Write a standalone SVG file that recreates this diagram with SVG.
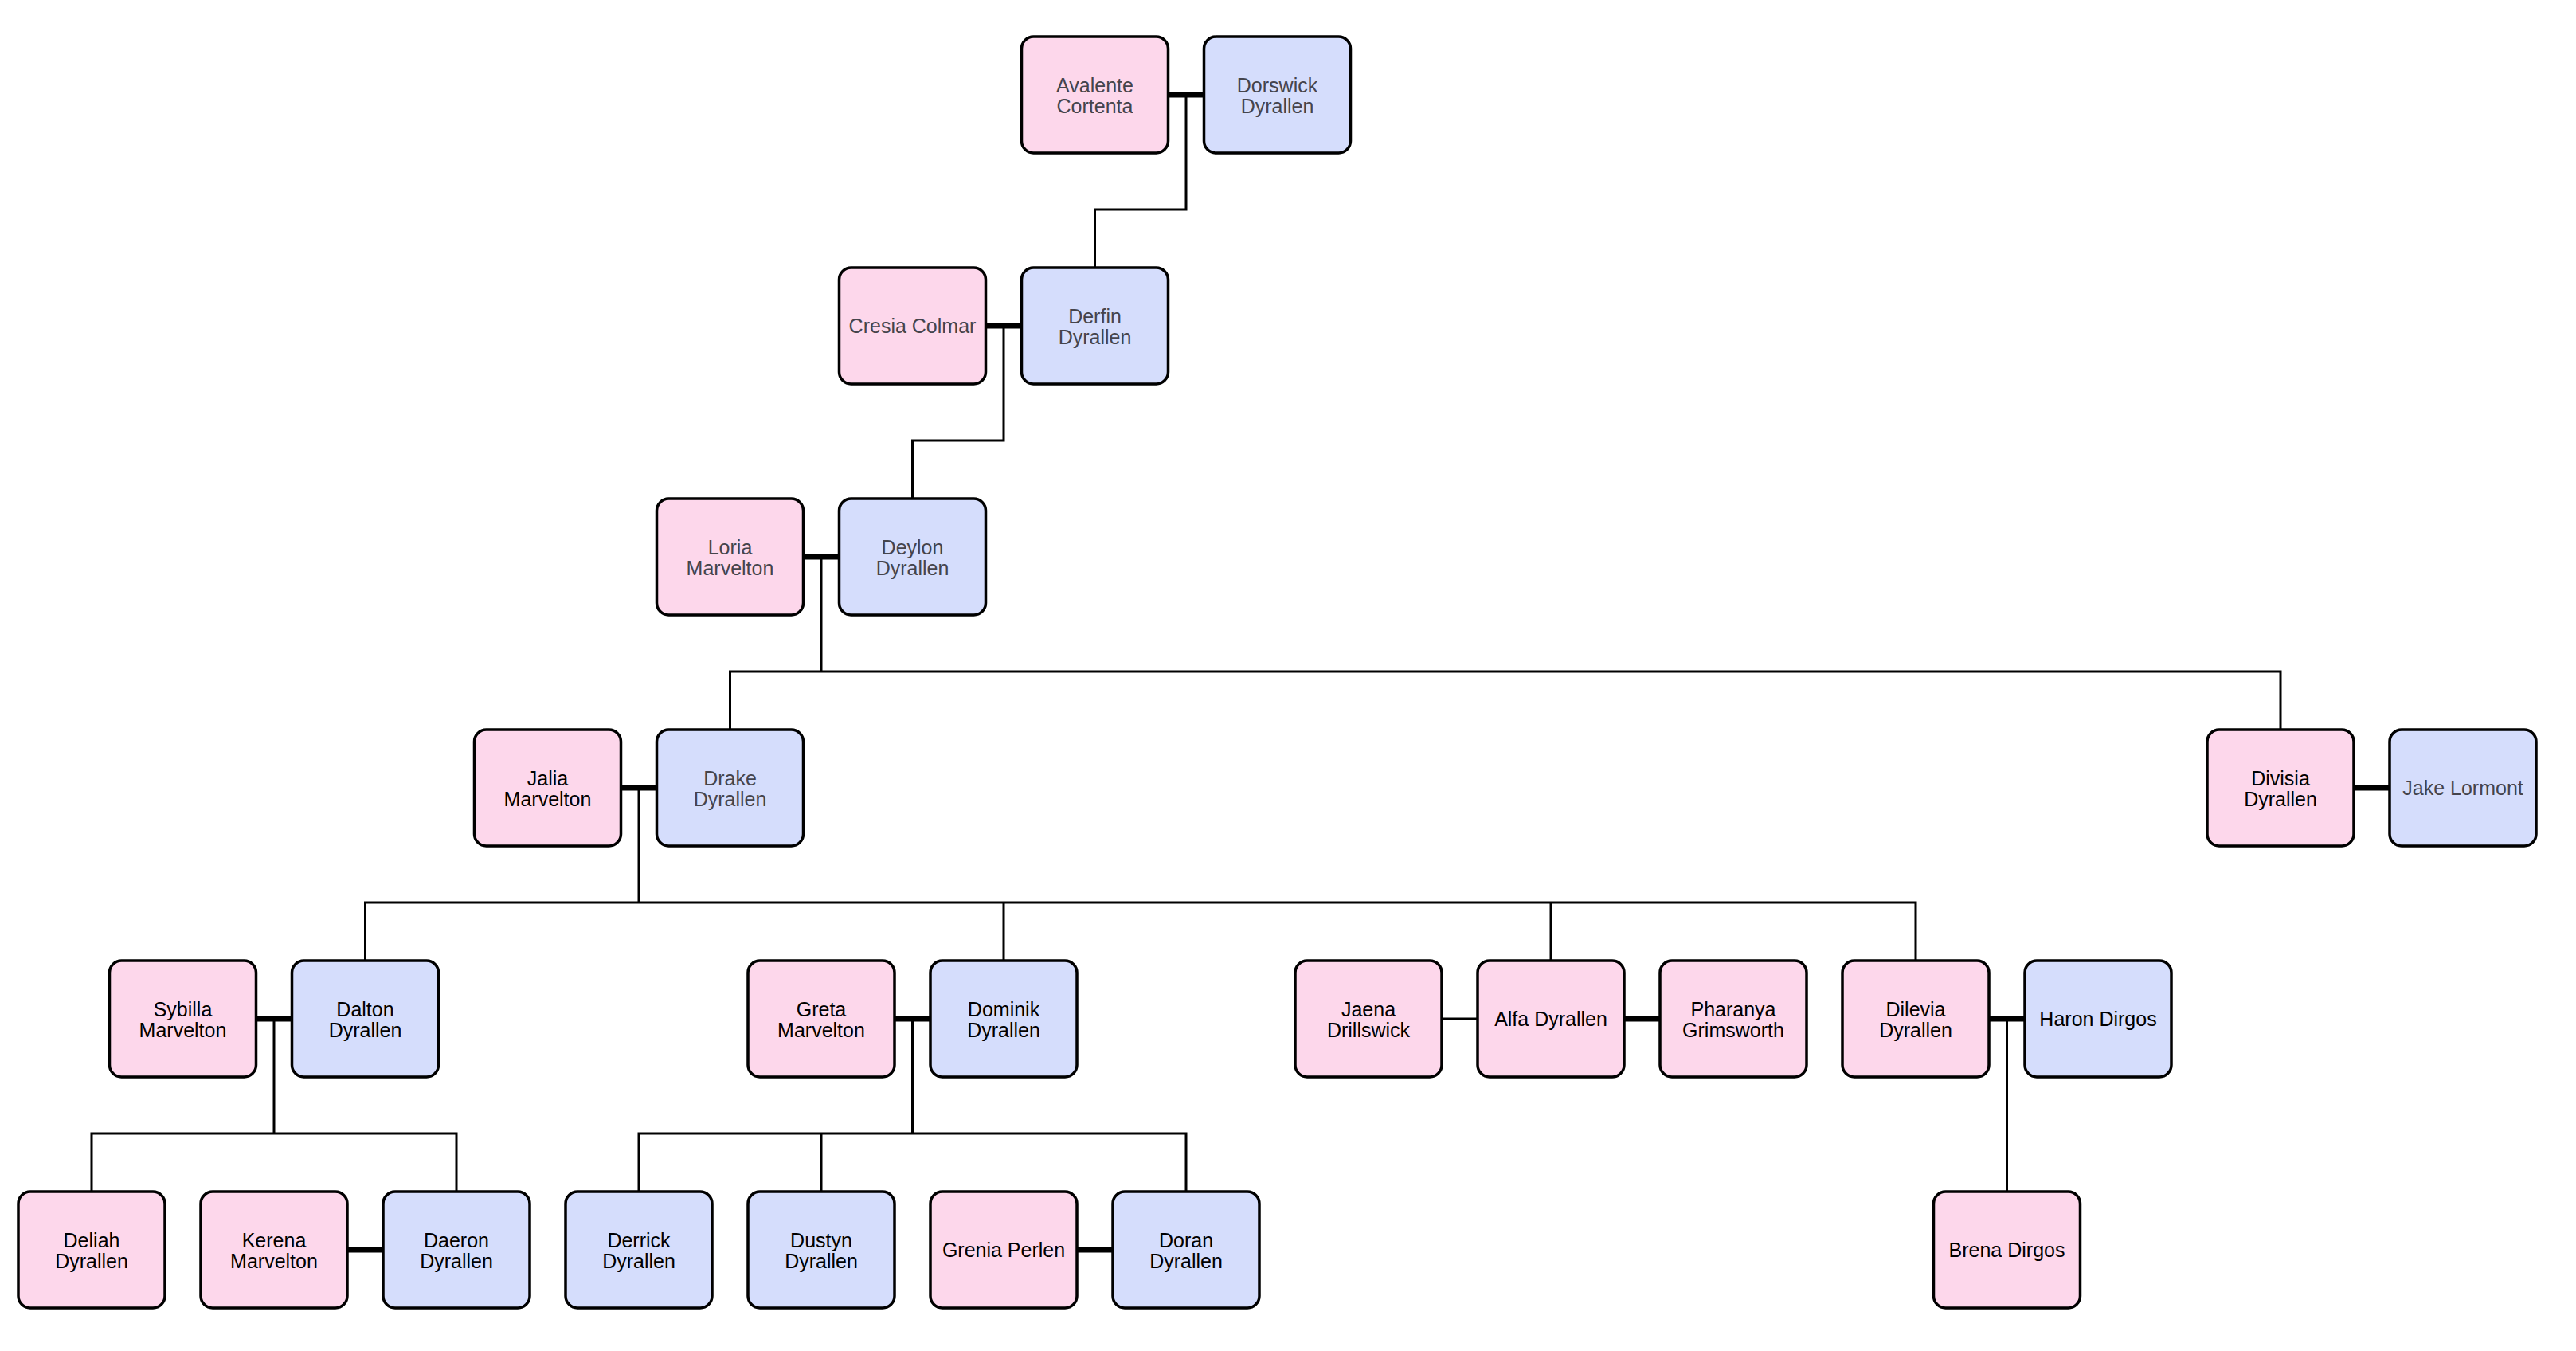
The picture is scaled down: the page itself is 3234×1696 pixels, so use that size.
<svg xmlns="http://www.w3.org/2000/svg" width="3234" height="1696" viewBox="0 0 3234 1696">
<style>
.box{stroke:#000;stroke-width:3.5}
.f{fill:#FDD7EB}
.m{fill:#D5DDFC}
text{font-family:"Liberation Sans",Arial,sans-serif;font-size:25px;text-anchor:middle;fill:#000}
.g text{fill:#45444c}
.thin{fill:none;stroke:#000;stroke-width:3}
.thick{fill:none;stroke:#000;stroke-width:7}
</style>
<rect width="3234" height="1696" fill="#fff"/>
<g id="connectors">
<path class="thin" d="M1489,119 V263 H1374.5 V336"/>
<path class="thin" d="M1260,409 V553 H1145.5 V626"/>
<path class="thin" d="M1031,699 V843"/>
<path class="thin" d="M916.5,916 V843 H2863 V916"/>
<path class="thin" d="M802,989 V1133"/>
<path class="thin" d="M458.5,1206 V1133 H2405 V1206 M1260,1133 V1206 M1947,1133 V1206"/>
<path class="thin" d="M344,1279 V1423"/>
<path class="thin" d="M115,1496 V1423 H573 V1496"/>
<path class="thin" d="M1145.5,1279 V1423"/>
<path class="thin" d="M802,1496 V1423 H1489 V1496 M1031,1423 V1496"/>
<path class="thin" d="M2519.5,1279 V1496"/>
<path class="thin" d="M1810,1279 H1855"/>
<path class="thick" d="M1466.5,119 H1511.5"/>
<path class="thick" d="M1237.5,409 H1282.5"/>
<path class="thick" d="M1008.5,699 H1053.5"/>
<path class="thick" d="M779.5,989 H824.5"/>
<path class="thick" d="M2955,989 H3000"/>
<path class="thick" d="M321.5,1279 H366.5"/>
<path class="thick" d="M1123,1279 H1168"/>
<path class="thick" d="M2039,1279 H2084"/>
<path class="thick" d="M2497,1279 H2542"/>
<path class="thick" d="M436,1569 H481"/>
<path class="thick" d="M1352,1569 H1397"/>
</g>
<g id="avalente" class="g"><rect class="box f" x="1282.5" y="46" width="184" height="146" rx="15"/><text x="1374.5" y="116">Avalente</text><text x="1374.5" y="142">Cortenta</text></g>
<g id="dorswick" class="g"><rect class="box m" x="1511.5" y="46" width="184" height="146" rx="15"/><text x="1603.5" y="116">Dorswick</text><text x="1603.5" y="142">Dyrallen</text></g>
<g id="cresia" class="g"><rect class="box f" x="1053.5" y="336" width="184" height="146" rx="15"/><text x="1145.5" y="418">Cresia Colmar</text></g>
<g id="derfin" class="g"><rect class="box m" x="1282.5" y="336" width="184" height="146" rx="15"/><text x="1374.5" y="406">Derfin</text><text x="1374.5" y="432">Dyrallen</text></g>
<g id="loria" class="g"><rect class="box f" x="824.5" y="626" width="184" height="146" rx="15"/><text x="916.5" y="696">Loria</text><text x="916.5" y="722">Marvelton</text></g>
<g id="deylon" class="g"><rect class="box m" x="1053.5" y="626" width="184" height="146" rx="15"/><text x="1145.5" y="696">Deylon</text><text x="1145.5" y="722">Dyrallen</text></g>
<g id="jalia"><rect class="box f" x="595.5" y="916" width="184" height="146" rx="15"/><text x="687.5" y="986">Jalia</text><text x="687.5" y="1012">Marvelton</text></g>
<g id="drake" class="g"><rect class="box m" x="824.5" y="916" width="184" height="146" rx="15"/><text x="916.5" y="986">Drake</text><text x="916.5" y="1012">Dyrallen</text></g>
<g id="divisia"><rect class="box f" x="2771" y="916" width="184" height="146" rx="15"/><text x="2863" y="986">Divisia</text><text x="2863" y="1012">Dyrallen</text></g>
<g id="jake" class="g"><rect class="box m" x="3000" y="916" width="184" height="146" rx="15"/><text x="3092" y="998">Jake Lormont</text></g>
<g id="sybilla"><rect class="box f" x="137.5" y="1206" width="184" height="146" rx="15"/><text x="229.5" y="1276">Sybilla</text><text x="229.5" y="1302">Marvelton</text></g>
<g id="dalton"><rect class="box m" x="366.5" y="1206" width="184" height="146" rx="15"/><text x="458.5" y="1276">Dalton</text><text x="458.5" y="1302">Dyrallen</text></g>
<g id="greta"><rect class="box f" x="939" y="1206" width="184" height="146" rx="15"/><text x="1031" y="1276">Greta</text><text x="1031" y="1302">Marvelton</text></g>
<g id="dominik"><rect class="box m" x="1168" y="1206" width="184" height="146" rx="15"/><text x="1260" y="1276">Dominik</text><text x="1260" y="1302">Dyrallen</text></g>
<g id="jaena"><rect class="box f" x="1626" y="1206" width="184" height="146" rx="15"/><text x="1718" y="1276">Jaena</text><text x="1718" y="1302">Drillswick</text></g>
<g id="alfa"><rect class="box f" x="1855" y="1206" width="184" height="146" rx="15"/><text x="1947" y="1288">Alfa Dyrallen</text></g>
<g id="pharanya"><rect class="box f" x="2084" y="1206" width="184" height="146" rx="15"/><text x="2176" y="1276">Pharanya</text><text x="2176" y="1302">Grimsworth</text></g>
<g id="dilevia"><rect class="box f" x="2313" y="1206" width="184" height="146" rx="15"/><text x="2405" y="1276">Dilevia</text><text x="2405" y="1302">Dyrallen</text></g>
<g id="haron"><rect class="box m" x="2542" y="1206" width="184" height="146" rx="15"/><text x="2634" y="1288">Haron Dirgos</text></g>
<g id="deliah"><rect class="box f" x="23" y="1496" width="184" height="146" rx="15"/><text x="115" y="1566">Deliah</text><text x="115" y="1592">Dyrallen</text></g>
<g id="kerena"><rect class="box f" x="252" y="1496" width="184" height="146" rx="15"/><text x="344" y="1566">Kerena</text><text x="344" y="1592">Marvelton</text></g>
<g id="daeron"><rect class="box m" x="481" y="1496" width="184" height="146" rx="15"/><text x="573" y="1566">Daeron</text><text x="573" y="1592">Dyrallen</text></g>
<g id="derrick"><rect class="box m" x="710" y="1496" width="184" height="146" rx="15"/><text x="802" y="1566">Derrick</text><text x="802" y="1592">Dyrallen</text></g>
<g id="dustyn"><rect class="box m" x="939" y="1496" width="184" height="146" rx="15"/><text x="1031" y="1566">Dustyn</text><text x="1031" y="1592">Dyrallen</text></g>
<g id="grenia"><rect class="box f" x="1168" y="1496" width="184" height="146" rx="15"/><text x="1260" y="1578">Grenia Perlen</text></g>
<g id="doran"><rect class="box m" x="1397" y="1496" width="184" height="146" rx="15"/><text x="1489" y="1566">Doran</text><text x="1489" y="1592">Dyrallen</text></g>
<g id="brena"><rect class="box f" x="2427.5" y="1496" width="184" height="146" rx="15"/><text x="2519.5" y="1578">Brena Dirgos</text></g>
</svg>
